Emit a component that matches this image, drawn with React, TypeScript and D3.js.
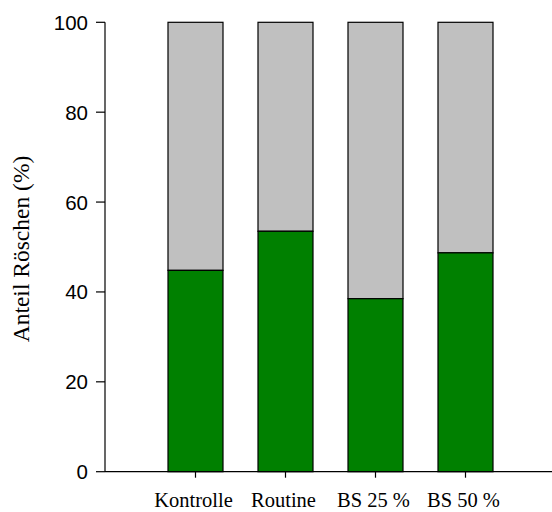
import React from "react";
import * as d3 from "d3";

const categories = ["Kontrolle", "Routine", "BS 25 %", "BS 50 %"];
const greenValues = [44.8, 53.5, 38.5, 48.7];
const totalValues = [100, 100, 100, 100];
const yTicks = [0, 20, 40, 60, 80, 100];
const yLabel = "Anteil Röschen (%)";

const W = 552;
const H = 512;

export default function App() {
  const y = d3.scaleLinear().domain([0, 100]).range([471.7, 22.3]);
  const x = d3
    .scaleBand<string>()
    .domain(categories)
    .range([150.5, 510.5])
    .paddingInner(35 / 90)
    .paddingOuter(35 / 180);
  const axisX0 = 105;
  const axisX1 = 552;
  const y0 = y(0);

  return (
    <svg
      width={W}
      height={H}
      style={{ position: "absolute", left: 0, top: 0, background: "#fff" }}
    >
      {categories.map((c, i) => {
        const bx = x(c)!;
        const bw = x.bandwidth();
        return (
          <g key={c}>
            <rect
              x={bx}
              y={y(totalValues[i])}
              width={bw}
              height={y(greenValues[i]) - y(totalValues[i])}
              fill="#c0c0c0"
              stroke="#000"
              strokeWidth={1.2}
            />
            <rect
              x={bx}
              y={y(greenValues[i])}
              width={bw}
              height={y0 - y(greenValues[i])}
              fill="#008000"
              stroke="#000"
              strokeWidth={1.2}
            />
          </g>
        );
      })}
      {/* y axis */}
      <line x1={axisX0} x2={axisX0} y1={y(100)} y2={y0} stroke="#000" strokeWidth={1.2} />
      {yTicks.map((t) => (
        <g key={t}>
          <line x1={axisX0 - 9} x2={axisX0} y1={y(t)} y2={y(t)} stroke="#000" strokeWidth={1.2} />
          <text
            x={88}
            y={y(t)}
            textAnchor="end"
            dominantBaseline="central"
            fontFamily="Liberation Sans, Arial, sans-serif"
            fontSize={20.5}
            fill="#000"
          >
            {t}
          </text>
        </g>
      ))}
      {/* x axis */}
      <line x1={axisX0} x2={axisX1} y1={y0} y2={y0} stroke="#000" strokeWidth={1.2} />
      {categories.map((c) => {
        const cx = x(c)! + x.bandwidth() / 2;
        return (
          <g key={"t" + c}>
            <line x1={cx} x2={cx} y1={y0} y2={y0 + 6} stroke="#000" strokeWidth={1.2} />
            <text
              x={cx - 2}
              y={507}
              textAnchor="middle"
              fontFamily="Liberation Serif, Times New Roman, serif"
              fontSize={20.5}
              fill="#000"
            >
              {c}
            </text>
          </g>
        );
      })}
      <text
        transform={`translate(29, 249) rotate(-90)`}
        textAnchor="middle"
        fontFamily="Liberation Serif, Times New Roman, serif"
        fontSize={23.5}
        fill="#000"
      >
        {yLabel}
      </text>
    </svg>
  );
}
